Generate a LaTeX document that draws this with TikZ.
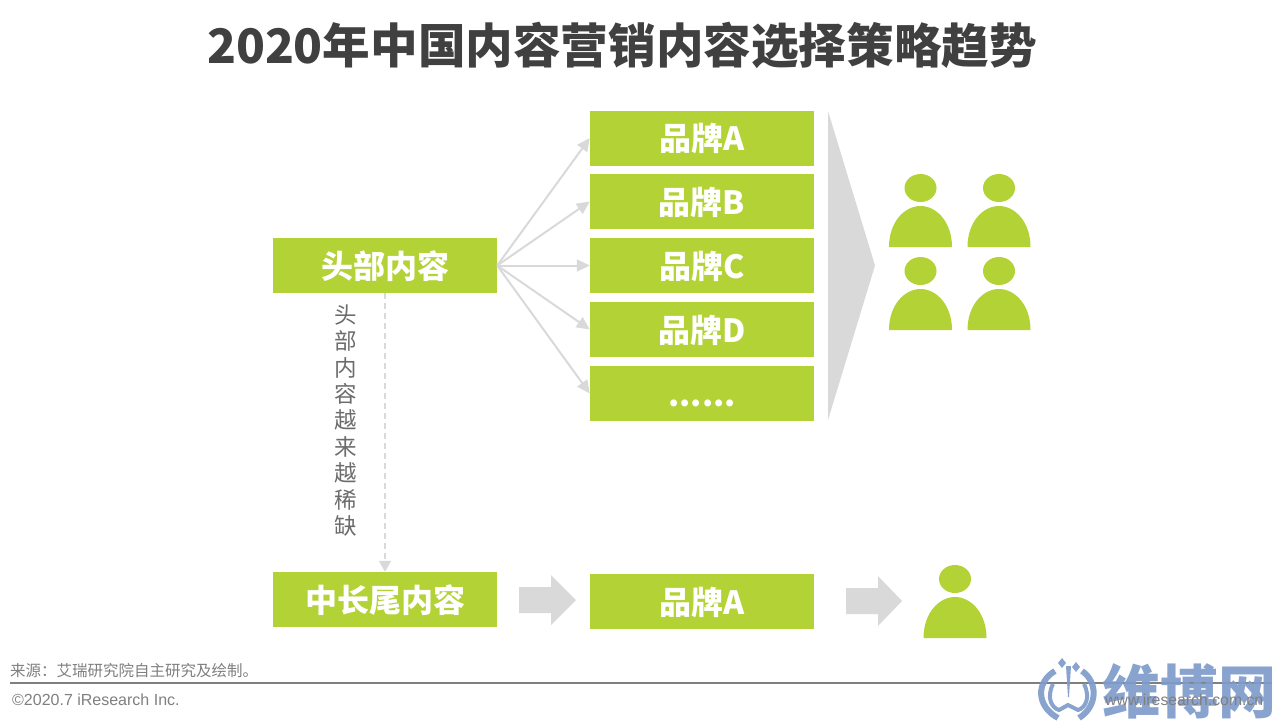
\documentclass[tikz,border=0pt]{standalone}
\usepackage{fontspec}
\setmainfont{Liberation Sans}
\newfontfamily\cjk{Noto Sans CJK SC}
\usetikzlibrary{arrows.meta}

\definecolor{leaf}{HTML}{B2D235}
\definecolor{palegray}{HTML}{D9D9D9}
\definecolor{inkgray}{HTML}{404040}
\definecolor{midgray}{HTML}{7F7F7F}
\definecolor{markblue}{HTML}{7F9BCB}

\tikzset{
    greenbox/.style={fill=leaf, inner sep=0pt, minimum width=224pt, minimum height=55pt,
        text height=28pt, text depth=3pt, text=white, font=\cjk\bfseries\fontsize{32}{36}\selectfont},
    linkarrow/.style={draw=palegray, line width=2pt, -{Triangle[length=13pt,width=12pt]}},
    dasharrow/.style={draw=palegray, line width=2pt, dashed, dash pattern=on 6pt off 4pt,
        -{Triangle[length=11pt,width=12pt]}},
    blockarrow/.style={fill=palegray},
    personicon/.pic={
        \fill[leaf] (0,-59) ellipse (16pt and 14pt);
        \fill[leaf] (-31.5,0) .. controls (-31.5,-25) and (-16,-41) .. (0,-41)
            .. controls (16,-41) and (31.5,-25) .. (31.5,0) -- cycle;
    }
}

\begin{document}
\begin{tikzpicture}[x=1pt, y=-1pt]

    \useasboundingbox (0,0) rectangle (1280,724);

    % Title
    \node[text=inkgray, font=\cjk\bfseries\fontsize{47.6}{52}\selectfont] (title) at (622,45)
        {2020年中国内容营销内容选择策略趋势};

    % Content boxes
    \node[greenbox] (headbox) at (385,265.5) {头部内容};
    \node[greenbox] (tailbox) at (385,599.5) {中长尾内容};
    \node[greenbox] (tailbrand) at (702,601.5) {品牌A};

    % Brand boxes
    \foreach \name/\ypos/\label in {brandA/138/品牌A, brandB/201.5/品牌B, brandC/265.5/品牌C,
                                    brandD/329.5/品牌D, brandE/393.5/{......}} {
        \node[greenbox] (\name) at (702,\ypos) {\label};
        \draw[linkarrow] (headbox.east) -- (\name.west);
    }

    % Scarcity link
    \draw[dasharrow] (headbox.south) -- (tailbox.north);
    \node[text=midgray!85!black, align=center, font=\cjk\fontsize{22.5}{26.4}\selectfont] (scarcity) at (345.5,420.5)
        {头\\部\\内\\容\\越\\来\\越\\稀\\缺};

    % Big funnel arrow
    \fill[palegray] (828,111) -- (875,265.5) -- (828,420) -- cycle;

    % Block arrows
    \fill[blockarrow] (519,587) -- (551,587) -- (551,575) -- (576,600) -- (551,625) -- (551,613) -- (519,613) -- cycle;
    \fill[blockarrow] (846,588) -- (878,588) -- (878,576) -- (902,601) -- (878,626) -- (878,614) -- (846,614) -- cycle;

    % People
    \foreach \xpos/\ypos in {920.5/247, 999/247, 920.5/330, 999/330, 955/638} {
        \pic at (\xpos,\ypos) {personicon};
    }

    % Footer
    \node[anchor=west, inner sep=0pt, text=midgray, font=\cjk\fontsize{15.5}{18}\selectfont] (source) at (10,671)
        {来源^^^^ff1a艾瑞研究院自主研究及绘制。};
    \draw[midgray, line width=1.5pt] (10,683) -- (1272,683);
    \node[anchor=west, inner sep=0pt, text=midgray, font=\fontsize{16}{19}\selectfont] (copyright) at (12,700)
        {©2020.7 iResearch Inc.};

    % Watermark
    \begin{scope}[opacity=0.92]
        \node[anchor=west, inner sep=0pt, text=markblue, font=\cjk\bfseries\fontsize{58}{60}\selectfont] (mark) at (1102,691)
            {维博网};
        \fill[markblue] (1062,658) -- (1066,663) -- (1062,668) -- (1058,663) -- cycle;
        \fill[markblue] (1076,662) -- (1080,667) -- (1076,672) -- (1072,667) -- cycle;
        \fill[markblue] (1066,666) -- (1071,666) -- (1069,697) -- (1068,697) -- cycle;
        \draw[markblue, line width=6pt] (1055,671) .. controls (1036,682) and (1036,706) .. (1058,718);
        \draw[markblue, line width=6pt] (1082,671) .. controls (1098,682) and (1098,706) .. (1079,718);
        \draw[markblue, line width=4pt] (1053,684) .. controls (1046,698) and (1052,708) .. (1059,710) -- (1068,705) -- (1078,710)
            .. controls (1085,708) and (1091,698) .. (1084,684);
    \end{scope}
    \node[anchor=west, inner sep=0pt, text=midgray, font=\fontsize{15.8}{18}\selectfont] (website) at (1105,700)
        {www.iresearch.com.cn};

\end{tikzpicture}
\end{document}
